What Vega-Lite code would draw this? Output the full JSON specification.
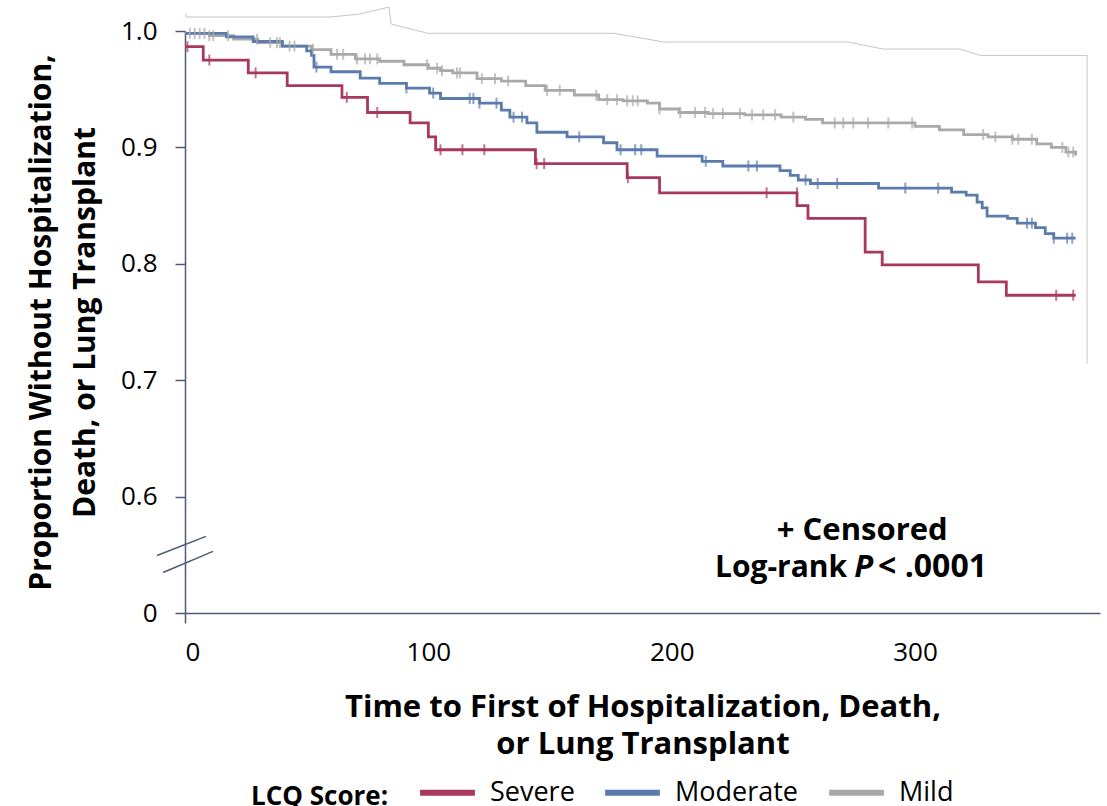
{
  "$schema": "https://vega.github.io/schema/vega-lite/v6.json",
  "width": 915,
  "height": 582,
  "autosize": {"type": "none"},
  "padding": {"left": 185, "top": 31, "right": 7, "bottom": 193},
  "background": "white",
  "config": {"view": {"stroke": null}, "font": "Open Sans", "axis": {"grid": false}},
  "datasets": {
    "km": [
      {"group": "Mild", "t": 0, "s": 0.998}, {"group": "Mild", "t": 10, "s": 0.996}, {"group": "Mild", "t": 20, "s": 0.993}, {"group": "Mild", "t": 30, "s": 0.990}, {"group": "Mild", "t": 40, "s": 0.987}, {"group": "Mild", "t": 52, "s": 0.984}, {"group": "Mild", "t": 60, "s": 0.980}, {"group": "Mild", "t": 70, "s": 0.976}, {"group": "Mild", "t": 80, "s": 0.974}, {"group": "Mild", "t": 90, "s": 0.971}, {"group": "Mild", "t": 100, "s": 0.968}, {"group": "Mild", "t": 105, "s": 0.966}, {"group": "Mild", "t": 110, "s": 0.964}, {"group": "Mild", "t": 120, "s": 0.959}, {"group": "Mild", "t": 130, "s": 0.957}, {"group": "Mild", "t": 140, "s": 0.953}, {"group": "Mild", "t": 148, "s": 0.949}, {"group": "Mild", "t": 160, "s": 0.945}, {"group": "Mild", "t": 170, "s": 0.941}, {"group": "Mild", "t": 180, "s": 0.940}, {"group": "Mild", "t": 190, "s": 0.938}, {"group": "Mild", "t": 195, "s": 0.933}, {"group": "Mild", "t": 203, "s": 0.930}, {"group": "Mild", "t": 215, "s": 0.929}, {"group": "Mild", "t": 230, "s": 0.928}, {"group": "Mild", "t": 245, "s": 0.926}, {"group": "Mild", "t": 255, "s": 0.924}, {"group": "Mild", "t": 262, "s": 0.921}, {"group": "Mild", "t": 300, "s": 0.918}, {"group": "Mild", "t": 310, "s": 0.915}, {"group": "Mild", "t": 320, "s": 0.911}, {"group": "Mild", "t": 330, "s": 0.909}, {"group": "Mild", "t": 340, "s": 0.907}, {"group": "Mild", "t": 350, "s": 0.903}, {"group": "Mild", "t": 356, "s": 0.900}, {"group": "Mild", "t": 362, "s": 0.896}, {"group": "Mild", "t": 366, "s": 0.893},
      {"group": "Moderate", "t": 0, "s": 0.998}, {"group": "Moderate", "t": 17, "s": 0.995}, {"group": "Moderate", "t": 28, "s": 0.991}, {"group": "Moderate", "t": 40, "s": 0.987}, {"group": "Moderate", "t": 50, "s": 0.983}, {"group": "Moderate", "t": 52, "s": 0.979}, {"group": "Moderate", "t": 53, "s": 0.969}, {"group": "Moderate", "t": 60, "s": 0.965}, {"group": "Moderate", "t": 72, "s": 0.9595}, {"group": "Moderate", "t": 80, "s": 0.955}, {"group": "Moderate", "t": 91, "s": 0.951}, {"group": "Moderate", "t": 100.5, "s": 0.9467}, {"group": "Moderate", "t": 105, "s": 0.942}, {"group": "Moderate", "t": 121, "s": 0.938}, {"group": "Moderate", "t": 130, "s": 0.932}, {"group": "Moderate", "t": 133.5, "s": 0.926}, {"group": "Moderate", "t": 140.5, "s": 0.921}, {"group": "Moderate", "t": 144.6, "s": 0.913}, {"group": "Moderate", "t": 157, "s": 0.909}, {"group": "Moderate", "t": 172, "s": 0.904}, {"group": "Moderate", "t": 177.5, "s": 0.898}, {"group": "Moderate", "t": 194, "s": 0.8925}, {"group": "Moderate", "t": 212.5, "s": 0.888}, {"group": "Moderate", "t": 221, "s": 0.884}, {"group": "Moderate", "t": 244.5, "s": 0.880}, {"group": "Moderate", "t": 248.7, "s": 0.876}, {"group": "Moderate", "t": 252, "s": 0.872}, {"group": "Moderate", "t": 257, "s": 0.869}, {"group": "Moderate", "t": 285, "s": 0.865}, {"group": "Moderate", "t": 315, "s": 0.8616}, {"group": "Moderate", "t": 321, "s": 0.859}, {"group": "Moderate", "t": 325.5, "s": 0.853}, {"group": "Moderate", "t": 327.6, "s": 0.848}, {"group": "Moderate", "t": 329.6, "s": 0.841}, {"group": "Moderate", "t": 338, "s": 0.839}, {"group": "Moderate", "t": 342, "s": 0.835}, {"group": "Moderate", "t": 349.5, "s": 0.831}, {"group": "Moderate", "t": 353.5, "s": 0.826}, {"group": "Moderate", "t": 357, "s": 0.822}, {"group": "Moderate", "t": 366, "s": 0.822},
      {"group": "Severe", "t": 0, "s": 0.9865}, {"group": "Severe", "t": 7.5, "s": 0.975}, {"group": "Severe", "t": 26, "s": 0.964}, {"group": "Severe", "t": 42, "s": 0.953}, {"group": "Severe", "t": 64.5, "s": 0.943}, {"group": "Severe", "t": 75, "s": 0.930}, {"group": "Severe", "t": 92.5, "s": 0.921}, {"group": "Severe", "t": 100, "s": 0.909}, {"group": "Severe", "t": 103, "s": 0.898}, {"group": "Severe", "t": 144, "s": 0.886}, {"group": "Severe", "t": 181.7, "s": 0.874}, {"group": "Severe", "t": 195, "s": 0.861}, {"group": "Severe", "t": 251.5, "s": 0.850}, {"group": "Severe", "t": 256, "s": 0.839}, {"group": "Severe", "t": 279.5, "s": 0.810}, {"group": "Severe", "t": 286.5, "s": 0.799}, {"group": "Severe", "t": 326, "s": 0.7845}, {"group": "Severe", "t": 337.5, "s": 0.773}, {"group": "Severe", "t": 366, "s": 0.773}
    ],
    "cens": [
      {"group": "Mild", "t": 2, "s": 0.998}, {"group": "Mild", "t": 4, "s": 0.998}, {"group": "Mild", "t": 6, "s": 0.998}, {"group": "Mild", "t": 8, "s": 0.998}, {"group": "Mild", "t": 10, "s": 0.996}, {"group": "Mild", "t": 11.6, "s": 0.996}, {"group": "Mild", "t": 17.7, "s": 0.996}, {"group": "Mild", "t": 29.6, "s": 0.993}, {"group": "Mild", "t": 35, "s": 0.990}, {"group": "Mild", "t": 37.8, "s": 0.990}, {"group": "Mild", "t": 39, "s": 0.990}, {"group": "Mild", "t": 43, "s": 0.987}, {"group": "Mild", "t": 45, "s": 0.987}, {"group": "Mild", "t": 52.6, "s": 0.984}, {"group": "Mild", "t": 62.5, "s": 0.980}, {"group": "Mild", "t": 65, "s": 0.980}, {"group": "Mild", "t": 70.7, "s": 0.976}, {"group": "Mild", "t": 74, "s": 0.976}, {"group": "Mild", "t": 76, "s": 0.976}, {"group": "Mild", "t": 79, "s": 0.976}, {"group": "Mild", "t": 99.5, "s": 0.971}, {"group": "Mild", "t": 103.6, "s": 0.968}, {"group": "Mild", "t": 105.6, "s": 0.966}, {"group": "Mild", "t": 111.8, "s": 0.964}, {"group": "Mild", "t": 113, "s": 0.964}, {"group": "Mild", "t": 122, "s": 0.959}, {"group": "Mild", "t": 127.4, "s": 0.959}, {"group": "Mild", "t": 132.8, "s": 0.957}, {"group": "Mild", "t": 148.8, "s": 0.949}, {"group": "Mild", "t": 154, "s": 0.949}, {"group": "Mild", "t": 169, "s": 0.945}, {"group": "Mild", "t": 173.5, "s": 0.941}, {"group": "Mild", "t": 177.5, "s": 0.941}, {"group": "Mild", "t": 181.7, "s": 0.940}, {"group": "Mild", "t": 184, "s": 0.940}, {"group": "Mild", "t": 186, "s": 0.940}, {"group": "Mild", "t": 195, "s": 0.933}, {"group": "Mild", "t": 203.5, "s": 0.930}, {"group": "Mild", "t": 209.6, "s": 0.930}, {"group": "Mild", "t": 213.7, "s": 0.930}, {"group": "Mild", "t": 217, "s": 0.929}, {"group": "Mild", "t": 221, "s": 0.929}, {"group": "Mild", "t": 228, "s": 0.929}, {"group": "Mild", "t": 233, "s": 0.928}, {"group": "Mild", "t": 237.6, "s": 0.928}, {"group": "Mild", "t": 242.5, "s": 0.928}, {"group": "Mild", "t": 250, "s": 0.926}, {"group": "Mild", "t": 267, "s": 0.921}, {"group": "Mild", "t": 270.5, "s": 0.921}, {"group": "Mild", "t": 274.6, "s": 0.921}, {"group": "Mild", "t": 280.7, "s": 0.921}, {"group": "Mild", "t": 289, "s": 0.921}, {"group": "Mild", "t": 298.8, "s": 0.921}, {"group": "Mild", "t": 328, "s": 0.911}, {"group": "Mild", "t": 333, "s": 0.909}, {"group": "Mild", "t": 340, "s": 0.907}, {"group": "Mild", "t": 342.4, "s": 0.907}, {"group": "Mild", "t": 348, "s": 0.907}, {"group": "Mild", "t": 360.5, "s": 0.900}, {"group": "Mild", "t": 363, "s": 0.896}, {"group": "Mild", "t": 365, "s": 0.896},
      {"group": "Moderate", "t": 54, "s": 0.969}, {"group": "Moderate", "t": 91, "s": 0.951}, {"group": "Moderate", "t": 102, "s": 0.9467}, {"group": "Moderate", "t": 117, "s": 0.942}, {"group": "Moderate", "t": 118.5, "s": 0.942}, {"group": "Moderate", "t": 121, "s": 0.938}, {"group": "Moderate", "t": 128, "s": 0.938}, {"group": "Moderate", "t": 135, "s": 0.926}, {"group": "Moderate", "t": 138.5, "s": 0.926}, {"group": "Moderate", "t": 162, "s": 0.909}, {"group": "Moderate", "t": 179, "s": 0.898}, {"group": "Moderate", "t": 185, "s": 0.898}, {"group": "Moderate", "t": 187.5, "s": 0.898}, {"group": "Moderate", "t": 214, "s": 0.888}, {"group": "Moderate", "t": 231.5, "s": 0.884}, {"group": "Moderate", "t": 235, "s": 0.884}, {"group": "Moderate", "t": 255, "s": 0.872}, {"group": "Moderate", "t": 260, "s": 0.869}, {"group": "Moderate", "t": 268, "s": 0.869}, {"group": "Moderate", "t": 296, "s": 0.865}, {"group": "Moderate", "t": 309.5, "s": 0.865}, {"group": "Moderate", "t": 346, "s": 0.835}, {"group": "Moderate", "t": 348, "s": 0.835}, {"group": "Moderate", "t": 357, "s": 0.822}, {"group": "Moderate", "t": 362.5, "s": 0.822}, {"group": "Moderate", "t": 364.6, "s": 0.822},
      {"group": "Severe", "t": 1, "s": 0.9865}, {"group": "Severe", "t": 10, "s": 0.975}, {"group": "Severe", "t": 29, "s": 0.964}, {"group": "Severe", "t": 66.5, "s": 0.943}, {"group": "Severe", "t": 79, "s": 0.930}, {"group": "Severe", "t": 105, "s": 0.898}, {"group": "Severe", "t": 114, "s": 0.898}, {"group": "Severe", "t": 123, "s": 0.898}, {"group": "Severe", "t": 144.5, "s": 0.886}, {"group": "Severe", "t": 147.6, "s": 0.886}, {"group": "Severe", "t": 182, "s": 0.874}, {"group": "Severe", "t": 239, "s": 0.861}, {"group": "Severe", "t": 251.5, "s": 0.861}, {"group": "Severe", "t": 358, "s": 0.773}, {"group": "Severe", "t": 365, "s": 0.773}
    ],
    "art": [
      {"i": 1, "t": 0.4, "s": 1.0155}, {"i": 2, "t": 0.4, "s": 1.012}, {"i": 3, "t": 59.6, "s": 1.012}, {"i": 4, "t": 71.9, "s": 1.0146}, {"i": 5, "t": 83.8, "s": 1.0206}, {"i": 6, "t": 84.7, "s": 1.006}, {"i": 7, "t": 99.9, "s": 0.998}, {"i": 8, "t": 176.3, "s": 0.998}, {"i": 9, "t": 196.9, "s": 0.9905}, {"i": 10, "t": 272.5, "s": 0.9905}, {"i": 11, "t": 286.9, "s": 0.9845}, {"i": 12, "t": 318.5, "s": 0.9845}, {"i": 13, "t": 326.8, "s": 0.979}, {"i": 14, "t": 370.7, "s": 0.979}, {"i": 15, "t": 370.7, "s": 0.7145}
    ],
    "brk": [
      {"k": "a", "t": -11.5, "s": 0.5494}, {"k": "a", "t": 8.6, "s": 0.5658},
      {"k": "b", "t": -9.0, "s": 0.5348}, {"k": "b", "t": 11.5, "s": 0.5529}
    ],
    "notes": [
      {"part": "c", "t": 278.3, "s": 0.5623, "label": "+ Censored"},
      {"part": "r", "t": 272.1, "s": 0.5305, "label": "Log-rank"},
      {"part": "i", "t": 278.9, "s": 0.5305, "label": "P"},
      {"part": "l", "t": 284.8, "s": 0.5305, "label": "< .0001"}
    ]
  },
  "encoding": {
    "x": {
      "field": "t", "type": "quantitative",
      "scale": {"domain": [0, 376], "nice": false, "zero": false},
      "axis": {
        "values": [0, 100, 200, 300], "labelFontSize": 26, "labelColor": "black", "labelFont": "Open Sans",
        "domainColor": "#4d5a78", "domainWidth": 1.5, "tickColor": "#4d5a78", "tickWidth": 1.5, "tickSize": 10,
        "tickOpacity": {"condition": {"test": "datum.value === 0", "value": 1}, "value": 0},
        "labelPadding": 16,
        "title": ["Time to First of Hospitalization, Death,", "or Lung Transplant"],
        "titleFontSize": 31, "titleFontWeight": "bold", "titleColor": "black", "titleFont": "Open Sans",
        "titleLineHeight": 37, "titlePadding": 27
      }
    },
    "y": {
      "field": "s", "type": "quantitative",
      "scale": {"domain": [0.5, 1.0], "nice": false, "zero": false},
      "axis": {
        "values": [0.5, 0.6, 0.7, 0.8, 0.9, 1.0],
        "labelExpr": "datum.value <= 0.5 ? '0' : format(datum.value, '.1f')",
        "labelFontSize": 26, "labelColor": "black", "labelFont": "Open Sans", "labelPadding": 18,
        "domainColor": "#4d5a78", "domainWidth": 1.5, "tickColor": "#4d5a78", "tickWidth": 1.5, "tickSize": 10,
        "title": ["Proportion Without Hospitalization,", "Death, or Lung Transplant"],
        "titleFontSize": 30, "titleFontWeight": "bold", "titleColor": "black", "titleFont": "Open Sans",
        "titleLineHeight": 44, "titlePadding": 20
      }
    }
  },
  "layer": [
    {
      "data": {"name": "art"},
      "mark": {"type": "line", "color": "#c6c6c6", "strokeWidth": 1, "clip": false},
      "encoding": {"order": {"field": "i", "type": "quantitative"}}
    },
    {
      "data": {"name": "brk"},
      "mark": {"type": "line", "color": "#4d5a78", "strokeWidth": 1.5, "clip": false},
      "encoding": {"detail": {"field": "k", "type": "nominal"}}
    },
    {
      "data": {"name": "km"},
      "mark": {"type": "line", "interpolate": "step-after", "strokeWidth": 2.8},
      "encoding": {
        "color": {
          "field": "group", "type": "nominal",
          "scale": {"domain": ["Severe", "Moderate", "Mild"], "range": ["#a8385c", "#5a7bab", "#a9a9a9"]},
          "legend": {
            "title": "LCQ Score:", "orient": "none", "legendX": 66, "legendY": 731, "direction": "horizontal",
            "titleOrient": "left", "titleAnchor": "middle", "titleBaseline": "top",
            "titleFontSize": 26, "titleFontWeight": "bold", "titleColor": "black", "titleFont": "Open Sans",
            "labelFontSize": 27, "labelFont": "Open Sans", "labelColor": "black",
            "symbolType": "stroke", "symbolStrokeWidth": 6, "symbolSize": 3000,
            "columnPadding": 18, "labelOffset": 12, "titlePadding": 28
          }
        }
      }
    },
    {
      "data": {"name": "cens"},
      "mark": {"type": "tick", "orient": "vertical", "size": 11, "thickness": 2},
      "encoding": {"color": {"field": "group", "type": "nominal", "legend": null}}
    },
    {
      "data": {"name": "notes"},
      "transform": [{"filter": "datum.part === 'c'"}],
      "mark": {"type": "text", "align": "center", "baseline": "alphabetic", "fontSize": 31, "fontWeight": "bold", "font": "Open Sans", "color": "black"},
      "encoding": {"text": {"field": "label"}}
    },
    {
      "data": {"name": "notes"},
      "transform": [{"filter": "datum.part === 'r'"}],
      "mark": {"type": "text", "align": "right", "baseline": "alphabetic", "fontSize": 30, "fontWeight": "bold", "font": "Open Sans", "color": "black"},
      "encoding": {"text": {"field": "label"}}
    },
    {
      "data": {"name": "notes"},
      "transform": [{"filter": "datum.part === 'i'"}],
      "mark": {"type": "text", "align": "center", "baseline": "alphabetic", "fontSize": 31, "fontWeight": "bold", "fontStyle": "italic", "font": "Open Sans", "color": "black"},
      "encoding": {"text": {"field": "label"}}
    },
    {
      "data": {"name": "notes"},
      "transform": [{"filter": "datum.part === 'l'"}],
      "mark": {"type": "text", "align": "left", "baseline": "alphabetic", "fontSize": 32, "fontWeight": "bold", "font": "Open Sans", "color": "black"},
      "encoding": {"text": {"field": "label"}}
    }
  ]
}
